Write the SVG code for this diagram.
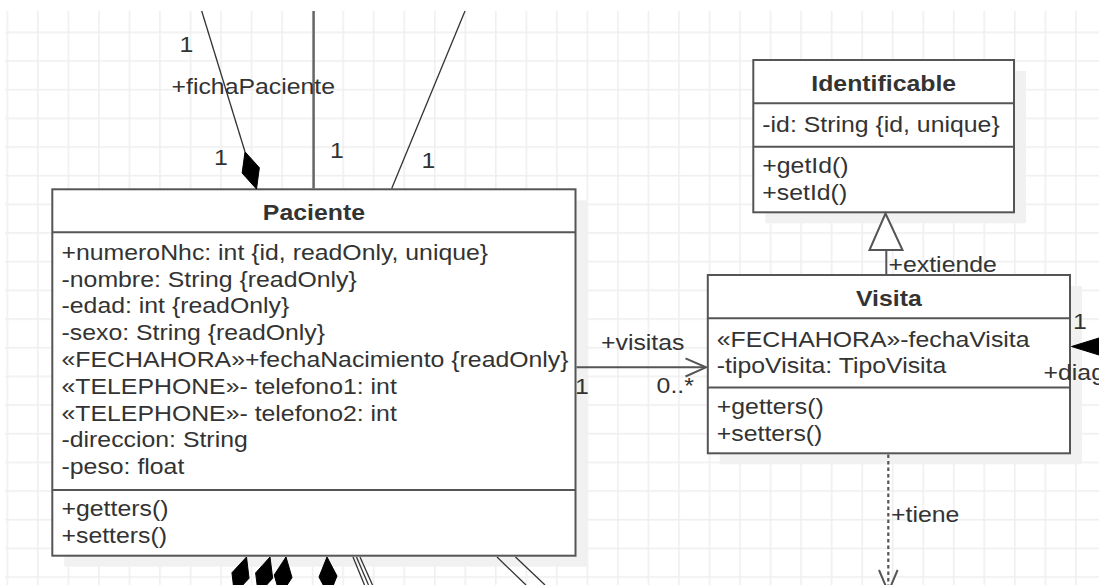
<svg xmlns="http://www.w3.org/2000/svg" width="1099" height="585" viewBox="0 0 1099 585">
  <defs>
    <style>
      .t{font-family:"Liberation Sans",Arial,sans-serif;font-size:21.5px;fill:#333}
      .b{font-weight:bold;text-anchor:middle}
      .box{fill:#fff;stroke:#555;stroke-width:2}
      .sep{stroke:#555;stroke-width:2}
      .shadow{fill:#f1f1f1}
      .thin{stroke:#333;stroke-width:1.3;fill:none}
      .edge{stroke:#555;stroke-width:2;fill:none}
      .dash{stroke:#555;stroke-width:2.2;fill:none;stroke-dasharray:3.5 3}
      .dia{fill:#000;stroke:#000;stroke-width:1;stroke-linejoin:round}
      .tri{fill:#fff;stroke:#555;stroke-width:2}
    </style>
    <pattern id="grid" patternUnits="userSpaceOnUse" x="6.5" y="31.5" width="30.53" height="28.67">
      <rect x="0" y="0" width="1.6" height="28.67" fill="#efefef"/>
      <rect x="0" y="0" width="30.53" height="1.6" fill="#efefef"/>
    </pattern>
  </defs>

  <!-- canvas and grid -->
  <rect width="1099" height="585" fill="#fff"/>
  <rect x="5" y="11" width="1094" height="574" fill="url(#grid)"/>

  <!-- drop shadows -->
  <g id="shadows">
    <rect class="shadow" x="64.3" y="200.3" width="523.2" height="366.4"/>
    <rect class="shadow" x="765.3" y="71" width="260.7" height="152.3"/>
    <rect class="shadow" x="719.8" y="286" width="362.2" height="178.3"/>
  </g>

  <!-- class Paciente -->
  <g id="paciente">
    <rect class="box" x="52.3" y="189.3" width="523.2" height="366.4"/>
    <line class="sep" x1="52.3" y1="232.3" x2="575.5" y2="232.3"/>
    <line class="sep" x1="52.3" y1="490" x2="575.5" y2="490"/>
    <text class="t b" transform="translate(313.9 219.8) scale(1.155 1)">Paciente</text>
    <text class="t" transform="translate(61.5 259.8) scale(1.155 1)">+numeroNhc: int {id, readOnly, unique}</text>
    <text class="t" transform="translate(61.5 286.6) scale(1.155 1)">-nombre: String {readOnly}</text>
    <text class="t" transform="translate(61.5 313.4) scale(1.155 1)">-edad: int {readOnly}</text>
    <text class="t" transform="translate(61.5 340.2) scale(1.155 1)">-sexo: String {readOnly}</text>
    <text class="t" transform="translate(61.5 367) scale(1.155 1)">«FECHAHORA»+fechaNacimiento {readOnly}</text>
    <text class="t" transform="translate(61.5 393.8) scale(1.155 1)">«TELEPHONE»- telefono1: int</text>
    <text class="t" transform="translate(61.5 420.6) scale(1.155 1)">«TELEPHONE»- telefono2: int</text>
    <text class="t" transform="translate(61.5 447.4) scale(1.155 1)">-direccion: String</text>
    <text class="t" transform="translate(61.5 474.2) scale(1.155 1)">-peso: float</text>
    <text class="t" transform="translate(61.5 516.2) scale(1.155 1)">+getters()</text>
    <text class="t" transform="translate(61.5 542.8) scale(1.155 1)">+setters()</text>
  </g>

  <!-- class Identificable -->
  <g id="identificable">
    <rect class="box" x="753.3" y="60" width="260.7" height="152.3"/>
    <line class="sep" x1="753.3" y1="103.3" x2="1014" y2="103.3"/>
    <line class="sep" x1="753.3" y1="146.7" x2="1014" y2="146.7"/>
    <text class="t b" transform="translate(883.7 90.7) scale(1.155 1)">Identificable</text>
    <text class="t" transform="translate(762.3 131.7) scale(1.155 1)">-id: String {id, unique}</text>
    <text class="t" transform="translate(762.3 173.3) scale(1.155 1)">+getId()</text>
    <text class="t" transform="translate(762.3 199.5) scale(1.155 1)">+setId()</text>
  </g>

  <!-- class Visita -->
  <g id="visita">
    <rect class="box" x="707.8" y="275" width="362.2" height="178.3"/>
    <line class="sep" x1="707.8" y1="318.3" x2="1070" y2="318.3"/>
    <line class="sep" x1="707.8" y1="387.5" x2="1070" y2="387.5"/>
    <text class="t b" transform="translate(888.9 305.6) scale(1.155 1)">Visita</text>
    <text class="t" transform="translate(716.8 346.5) scale(1.155 1)">«FECHAHORA»-fechaVisita</text>
    <text class="t" transform="translate(716.8 372.8) scale(1.155 1)">-tipoVisita: TipoVisita</text>
    <text class="t" transform="translate(716.8 414) scale(1.155 1)">+getters()</text>
    <text class="t" transform="translate(716.8 440.7) scale(1.155 1)">+setters()</text>
  </g>

  <!-- connectors -->
  <g id="connectors">
    <!-- top associations into Paciente -->
    <line class="thin" x1="201.7" y1="11" x2="245" y2="151.8"/>
    <polygon class="dia" points="256.5,189 259.35,167.7 245,151.8 242.15,173.1"/>
    <line x1="313.6" y1="11" x2="313.6" y2="188.5" stroke="#666" stroke-width="2.5"/>
    <line class="thin" x1="465" y1="11" x2="391.7" y2="188.5"/>

    <!-- compositions leaving the bottom of Paciente -->
    <polygon class="dia" points="246.5,557 249.05,578.3 234.4,594 231.95,572.7"/>
    <polygon class="dia" points="270,557 272.7,578.3 258.3,594.2 255.6,572.9"/>
    <polygon class="dia" points="286,557 292,577.6 280.2,595.6 274.2,574.95"/>
    <polygon class="dia" points="327,557 337,576 329,596 319,577"/>
    <line class="thin" x1="353" y1="557" x2="364.5" y2="585"/>
    <line class="thin" x1="356.5" y1="557" x2="368.5" y2="585"/>
    <line class="thin" x1="360" y1="557" x2="372.5" y2="585"/>
    <line class="thin" x1="497" y1="557" x2="526" y2="585"/>
    <line class="thin" x1="515.5" y1="557" x2="545" y2="585"/>

    <!-- Paciente to Visita -->
    <line class="edge" x1="576.5" y1="367.3" x2="705" y2="367.3"/>
    <polyline class="edge" points="685.5,358.3 706,367.3 685.5,376.5"/>

    <!-- Visita extends Identificable -->
    <line class="edge" x1="886.3" y1="250" x2="886.3" y2="274"/>
    <polygon class="tri" points="885.5,213.5 902.5,250 869.5,250"/>

    <!-- Visita composition on the right -->
    <polygon class="dia" points="1071.5,346.5 1099,338 1126.5,346.5 1099,355"/>

    <!-- Visita dependency downwards -->
    <line class="dash" x1="888.3" y1="454.5" x2="888.3" y2="590"/>
    <polyline class="edge" points="879,570 888.3,592 897.6,570"/>

    <!-- connector labels -->
    <g id="labels">
      <text class="t" transform="translate(179.5 51.7) scale(1.155 1)">1</text>
      <text class="t" transform="translate(171.5 94.3) scale(1.155 1)">+fichaPaciente</text>
      <text class="t" transform="translate(214 165) scale(1.155 1)">1</text>
      <text class="t" transform="translate(330 158) scale(1.155 1)">1</text>
      <text class="t" transform="translate(421.5 168) scale(1.155 1)">1</text>
      <text class="t" transform="translate(601 350) scale(1.155 1)">+visitas</text>
      <text class="t" transform="translate(575 394) scale(1.155 1)">1</text>
      <text class="t" transform="translate(656.6 393) scale(1.155 1)">0..*</text>
      <text class="t" transform="translate(888.5 272) scale(1.155 1)">+extiende</text>
      <text class="t" transform="translate(1073 329) scale(1.155 1)">1</text>
      <text class="t" transform="translate(1043.5 380) scale(1.155 1)">+diag</text>
      <text class="t" transform="translate(891 521.5) scale(1.155 1)">+tiene</text>
    </g>
  </g>
</svg>
